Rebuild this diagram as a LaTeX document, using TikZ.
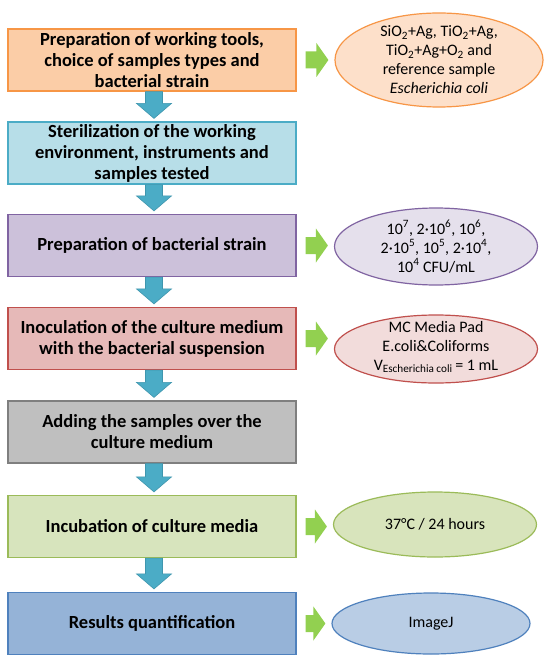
\documentclass[tikz,border=0pt]{standalone}
\usepackage{fontspec}
\setmainfont{Carlito}
\usetikzlibrary{shapes.geometric,calc}
\definecolor{orS}{HTML}{F79646}\definecolor{orF}{HTML}{FBCDA7}\definecolor{orE}{HTML}{FDE0CA}
\definecolor{cyS}{HTML}{4BACC6}\definecolor{cyF}{HTML}{B7DEE8}
\definecolor{puS}{HTML}{8064A2}\definecolor{puF}{HTML}{CCC1DA}\definecolor{puE}{HTML}{E5E0EC}
\definecolor{reS}{HTML}{C0504D}\definecolor{reF}{HTML}{E6B9B8}\definecolor{reE}{HTML}{F2DCDB}
\definecolor{grS}{HTML}{7F7F7F}\definecolor{grF}{HTML}{BFBFBF}
\definecolor{olS}{HTML}{9BBB59}\definecolor{olF}{HTML}{D7E4BD}\definecolor{olE}{HTML}{D8E4BC}
\definecolor{blS}{HTML}{4F81BD}\definecolor{blF}{HTML}{95B3D7}\definecolor{blE}{HTML}{B9CDE5}
\definecolor{arrB}{HTML}{4BACC6}\definecolor{arrBS}{HTML}{3F96AE}
\definecolor{arrG}{HTML}{92D050}
\tikzset{
  stepbox/.style={rectangle,line width=1.2pt,minimum width=288pt,minimum height=62pt,
    inner sep=0pt,align=center,font=\bfseries\fontsize{18.5}{21}\selectfont},
  ellbox/.style={ellipse,line width=1.2pt,inner sep=0pt},
  elltext/.style={align=center,font=\fontsize{16}{19}\selectfont,inner sep=0pt},
  downarr/.style={fill=arrB,draw=arrBS,line width=0.6pt,line join=miter},
  rightarr/.style={fill=arrG,draw=none}
}
\newcommand\vblock[2]{%
  \path[downarr] let \p1=($(#1.south)+(2pt,0)$), \p2=(#2.north) in
  (\x1-8.5pt,\y1) -- (\x1-8.5pt,\y2+18pt) -- (\x1-17.5pt,\y2+18pt) -- (\x1,\y2+3pt)
  -- (\x1+17.5pt,\y2+18pt) -- (\x1+8.5pt,\y2+18pt) -- (\x1+8.5pt,\y1) -- cycle;}
\newcommand\hblock[2]{%
  \path[rightarr] let \p1=(#1.east), \p2=(#2.west) in
  (\x1+9pt,\y1+8.5pt) -- (\x2-18pt,\y1+8.5pt) -- (\x2-18pt,\y1+17pt) -- (\x2-6pt,\y1)
  -- (\x2-18pt,\y1-17pt) -- (\x2-18pt,\y1-8.5pt) -- (\x1+9pt,\y1-8.5pt) -- cycle;}
\begin{document}
\begin{tikzpicture}[x=1pt,y=-1pt]
\useasboundingbox (0,0) rectangle (550,663);
\fill[white] (0,0) rectangle (550,663);
% step boxes
\node[stepbox,draw=orS,fill=orF] (b1) at (152,60) {Preparation of working tools,\\choice of samples types and\\bacterial strain};
\node[stepbox,draw=cyS,fill=cyF] (b2) at (152,153) {Sterilization of the working\\environment, instruments and\\samples tested};
\node[stepbox,draw=puS,fill=puF] (b3) at (152,245.5) {Preparation of bacterial strain};
\node[stepbox,draw=reS,fill=reF] (b4) at (152,338.5) {Inoculation of the culture medium\\with the bacterial suspension};
\node[stepbox,draw=grS,fill=grF] (b5) at (152,432) {Adding the samples over the\\culture medium};
\node[stepbox,draw=olS,fill=olF] (b6) at (152,526.5) {Incubation of culture media};
\node[stepbox,draw=blS,fill=blF] (b7) at (152,623.5) {Results quantification};
% ellipses
\node[ellbox,draw=orS,fill=orE,minimum width=208pt,minimum height=94pt] (e1) at (439,60) {};
\node[elltext] (t1) at (e1.center) {SiO\textsubscript{2}+Ag, TiO\textsubscript{2}+Ag,\\TiO\textsubscript{2}+Ag+O\textsubscript{2} and\\reference sample\\\textit{Escherichia coli}};
\node[ellbox,draw=puS,fill=puE,minimum width=203pt,minimum height=77pt] (e3) at (436,246.5) {};
\node[elltext] (t3) at (e3.center) {10\textsuperscript{7}, 2·10\textsuperscript{6}, 10\textsuperscript{6},\\2·10\textsuperscript{5}, 10\textsuperscript{5}, 2·10\textsuperscript{4},\\10\textsuperscript{4} CFU/mL};
\node[ellbox,draw=reS,fill=reE,minimum width=203pt,minimum height=68pt] (e4) at (436,349) {};
\node[elltext] (t4) at ($(e4.center)+(0,-2)$) {MC Media Pad\\E.coli\&Coliforms\\V\textsubscript{Escherichia coli}\,= 1 mL};
\node[ellbox,draw=olS,fill=olE,minimum width=203pt,minimum height=65pt] (e6) at (435,524.5) {};
\node[elltext] (t6) at (e6.center) {37°C / 24 hours};
\node[ellbox,draw=blS,fill=blE,minimum width=198pt,minimum height=61pt] (e7) at (431,623.5) {};
\node[elltext] (t7) at (e7.center) {ImageJ};
% connectors
\vblock{b1}{b2}
\vblock{b2}{b3}
\vblock{b3}{b4}
\vblock{b4}{b5}
\vblock{b5}{b6}
\vblock{b6}{b7}
\hblock{b1}{e1}
\hblock{b3}{e3}
\hblock{b4}{e4}
\hblock{b6}{e6}
\hblock{b7}{e7}
\end{tikzpicture}
\end{document}
